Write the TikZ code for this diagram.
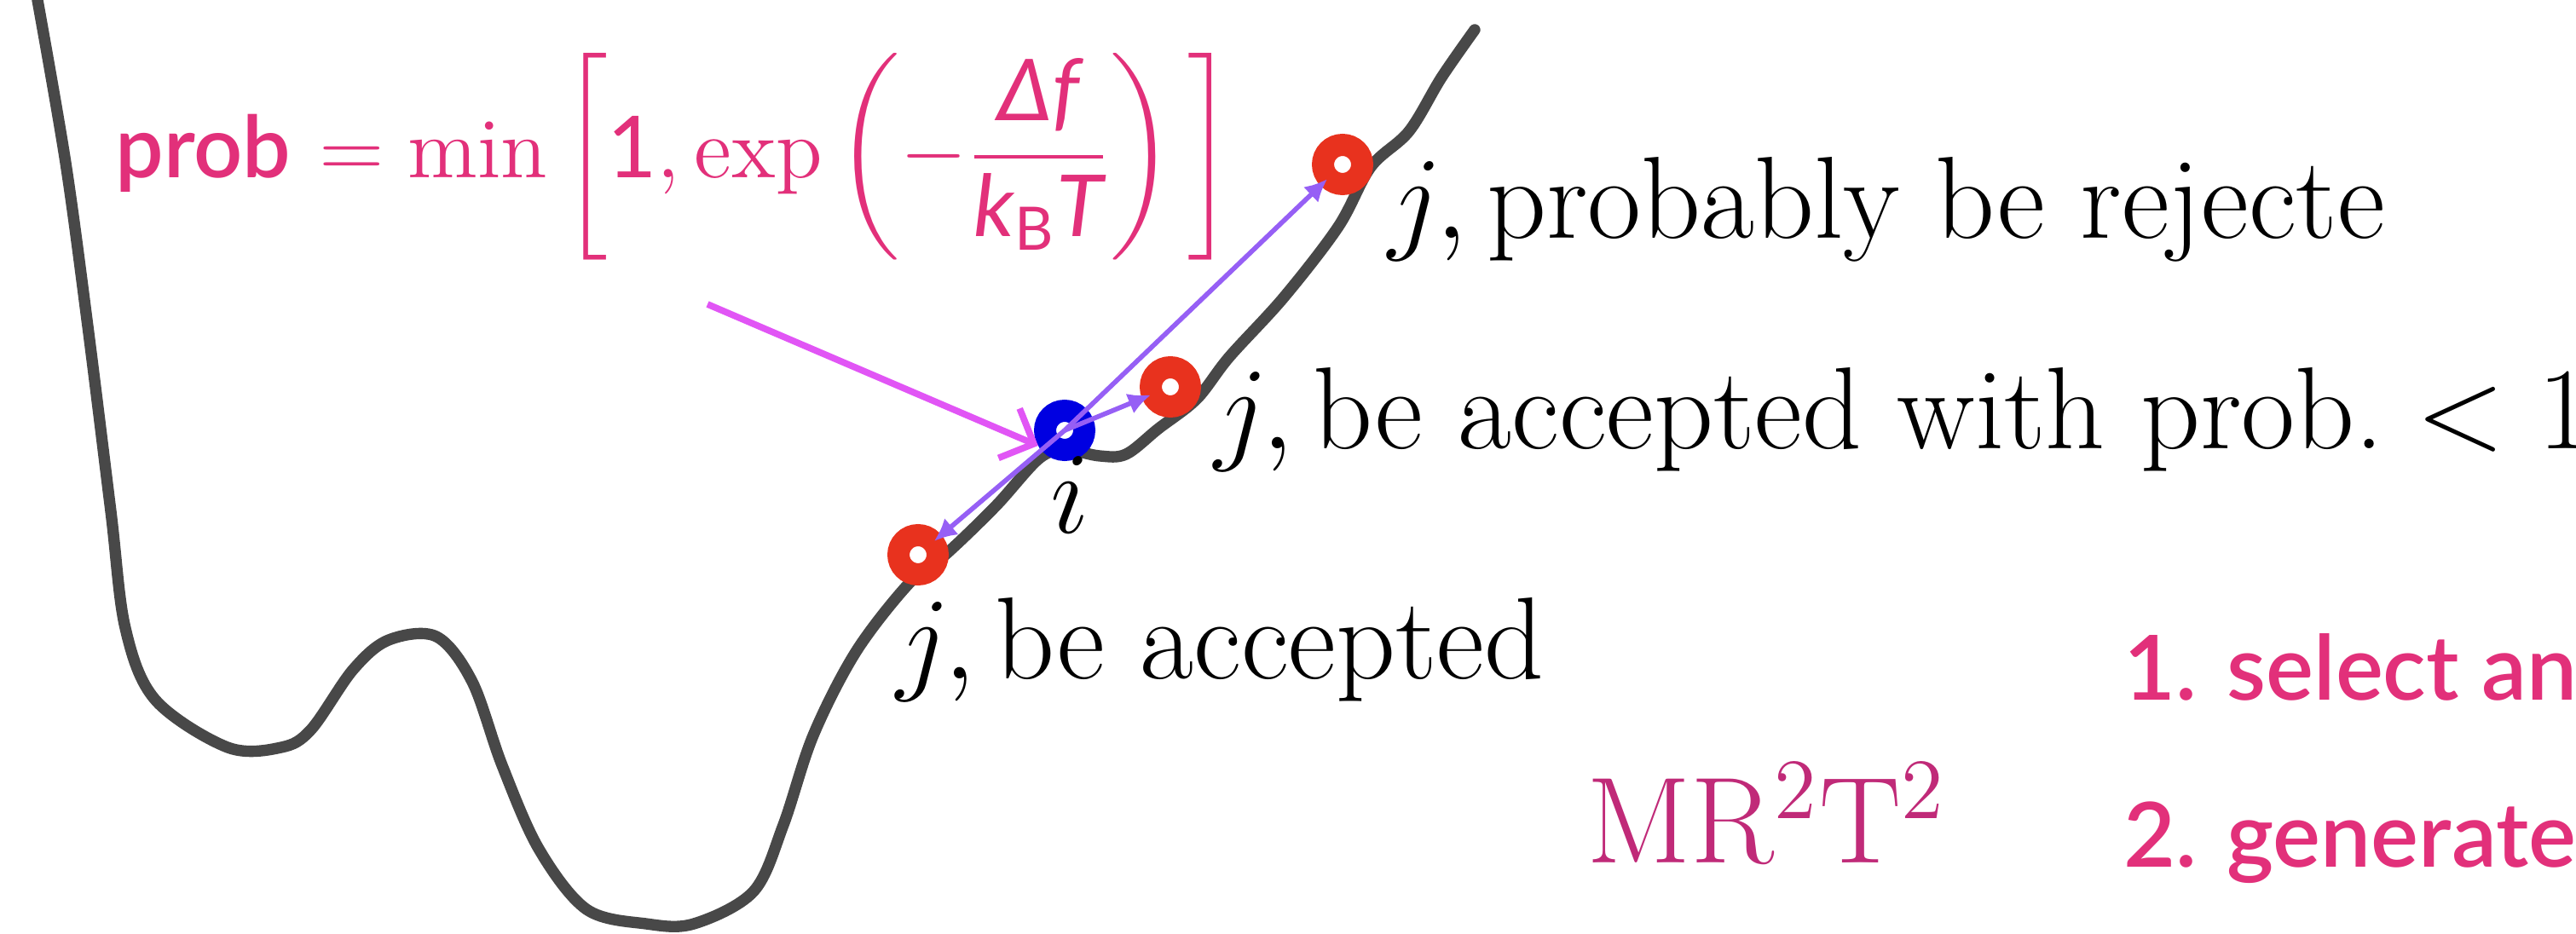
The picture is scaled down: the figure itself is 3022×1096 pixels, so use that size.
\RequirePackage{fix-cm}
\documentclass[tikz,border=0pt]{standalone}
\usepackage{amsmath}
\usepackage{fontspec}
\newfontfamily\gillish{Lato}
\IfFontExistsTF{Lato Semibold}
    {\newfontfamily\gillmid{Lato Semibold}}
    {\newfontfamily\gillmid{Lato}[FakeBold=1.2]}
\usetikzlibrary{arrows.meta}

\definecolor{eqpink}{RGB}{226,48,122}
\definecolor{algopink}{RGB}{192,42,120}
\definecolor{ringred}{RGB}{232,50,30}
\definecolor{ringblue}{RGB}{0,0,225}
\definecolor{movepurple}{RGB}{150,95,245}
\definecolor{hintmagenta}{RGB}{225,85,245}
\definecolor{curvegray}{RGB}{72,72,72}

\begin{document}
\begin{tikzpicture}[
    x=0.005cm,
    y=-0.005cm,
    landscape/.style={
        draw=curvegray,
        line width=1.9pt,
        line cap=round,
        line join=round
    },
    state/.style={
        circle,
        draw=ringblue,
        fill=white,
        line width=3.7pt,
        minimum size=0.23cm,
        inner sep=0pt
    },
    trial/.style={
        state,
        draw=ringred
    },
    move/.style={
        -{Latex[length=3.8pt,width=3.6pt]},
        movepurple,
        line width=0.8pt,
        shorten >=3.5pt
    },
    hint/.style={
        -{Straight Barb[length=4.5pt,width=9pt]},
        hintmagenta,
        line width=1.1pt
    },
    lbl/.style={
        anchor=base west,
        inner sep=0pt,
        font=\fontsize{19.5}{23}\selectfont
    },
    eqn/.style={
        anchor=base west,
        inner sep=0pt,
        text=eqpink,
        font=\fontsize{14.3}{17}\selectfont
    },
    algo/.style={
        anchor=base west,
        inner sep=0pt,
        text=algopink,
        font=\fontsize{20.5}{24}\selectfont
    },
    stepnote/.style={
        anchor=base west,
        inner sep=0pt,
        text=eqpink,
        font=\gillmid\fontsize{15}{18}\selectfont
    }
]

\useasboundingbox (0,0) rectangle (3022,1096);

\draw[landscape] plot[smooth, tension=0.55] coordinates {
    (44,0) (77,191) (103,383) (130,600) (147,737) (182,821)
    (267,877) (330,877) (365,856) (414,786) (456,751) (512,747)
    (554,800) (589,898) (632,996) (688,1067) (758,1084) (814,1084)
    (884,1046) (919,968) (954,863) (1004,765) (1066,685) (1110,650)
    (1168,594) (1219,538) (1250,528) (1290,535) (1321,533) (1359,503)
    (1404,468) (1442,419) (1506,349) (1570,266) (1608,196) (1653,154)
    (1691,91) (1730,35)
};

\node[state] (i) at (1249,505) {};
\node[trial] (jlow) at (1077,651) {};
\node[trial] (jmid) at (1373,454) {};
\node[trial] (jtop) at (1575,193) {};


\draw[move] (i.center) -- (jtop.center);
\draw[move] (i.center) -- (jmid.center);
\draw[move] (i.center) -- (jlow.center);

\coordinate (rulefoot) at (830,357);
\draw[hint] (rulefoot) -- (i.210);


\node[eqn] (rule) at (134,209)
    {{\gillmid prob} $= \min\,\biggl[\text{\gillish 1}, \exp\,\biggl(-\dfrac{\text{\gillish\itshape Δf}}{\text{\gillish\itshape k}_{\text{\gillish B}}\text{\gillish\itshape T}}\biggr)\,\biggr]$};

\node[lbl] (toprej) at (1627,280)
    {$j, \text{probably be rejecte}$};

\node[lbl] (midacc) at (1423,527)
    {$j, \text{be accepted with prob.} < 1$};

\node[lbl, anchor=base] (ilbl) at (1255,626)
    {$i$};

\node[lbl] (lowacc) at (1050,797)
    {$j, \text{be accepted}$};

\node[algo] (mrtt) at (1860,1013)
    {$\mathrm{MR^2T^2}$};

\node[stepnote] (stepone) at (2490,822)
    {1. select an};

\node[stepnote] (steptwo) at (2490,1017)
    {2. generate};

\end{tikzpicture}
\end{document}
